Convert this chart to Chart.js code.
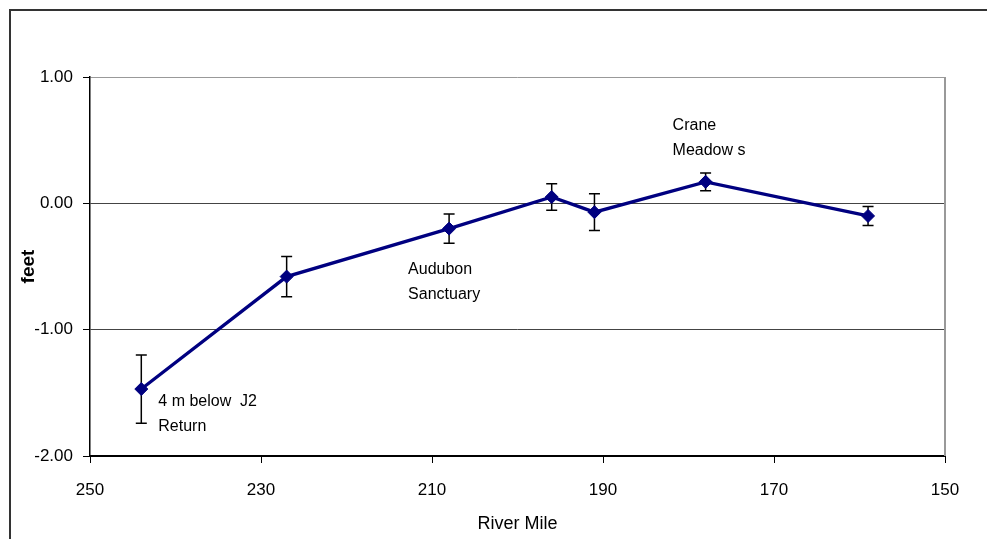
<!DOCTYPE html>
<html>
<head>
<meta charset="utf-8">
<script src="https://cdn.jsdelivr.net/npm/chart.js@4.4.0/dist/chart.umd.min.js"></script>
<style>
  html, body { margin: 0; padding: 0; background: #fff; }
  #wrap { width: 987px; height: 539px; }
</style>
</head>
<body>
<div id="wrap"><canvas id="grafico" width="987" height="539"></canvas></div>
<script>
// River mile of each site and mean change (feet) with error
const riverMiles = [244, 227, 208, 196, 191, 178, 159];
const feetValues = [-1.47, -0.58, -0.20, 0.05, -0.07, 0.17, -0.10];
const feetErrors = [0.27, 0.16, 0.115, 0.105, 0.145, 0.07, 0.075];
const yTicks = [-2, -1, 0, 1];

// site labels, tied to a point index
const siteLabels = [
  { idx: 0, lines: ["4 m below  J2", "Return"], dx: 17, dy: 17 },
  { idx: 2, lines: ["Audubon", "Sanctuary"], dx: -41, dy: 45 },
  { idx: 5, lines: ["Crane", "Meadow s"], dx: -33, dy: -52 }
];

const fonte = "'Liberation Sans', Arial, sans-serif";

const moldura = {
  id: "moldura",
  beforeDraw(chart) {
    const ctx = chart.ctx;
    ctx.save();
    ctx.fillStyle = "#fff";
    ctx.fillRect(0, 0, chart.width, chart.height);
    ctx.strokeStyle = "#333";
    ctx.lineWidth = 2;
    ctx.strokeRect(10, 10, 1100, 700);
    ctx.restore();
  },
  beforeDatasetsDraw(chart) {
    const { ctx, chartArea, scales } = chart;
    ctx.save();
    // right edge of plot
    ctx.strokeStyle = "#999";
    ctx.lineWidth = 2;
    ctx.beginPath();
    ctx.moveTo(chartArea.right, chartArea.top);
    ctx.lineTo(chartArea.right, chartArea.bottom);
    ctx.stroke();
    // error bars
    ctx.strokeStyle = "#000";
    ctx.lineWidth = 1.5;
    riverMiles.forEach((m, i) => {
      const x = scales.x.getPixelForValue(m);
      const y1 = scales.y.getPixelForValue(feetValues[i] + feetErrors[i]);
      const y2 = scales.y.getPixelForValue(feetValues[i] - feetErrors[i]);
      ctx.beginPath();
      ctx.moveTo(x, y1); ctx.lineTo(x, y2);
      ctx.moveTo(x - 5.5, y1); ctx.lineTo(x + 5.5, y1);
      ctx.moveTo(x - 5.5, y2); ctx.lineTo(x + 5.5, y2);
      ctx.stroke();
    });
    ctx.restore();
  },
  afterDatasetsDraw(chart) {
    const { ctx, scales } = chart;
    ctx.save();
    ctx.fillStyle = "#000";
    ctx.font = "16px " + fonte;
    ctx.textBaseline = "alphabetic";
    siteLabels.forEach(l => {
      const x = scales.x.getPixelForValue(riverMiles[l.idx]) + l.dx;
      const y = scales.y.getPixelForValue(feetValues[l.idx]) + l.dy;
      l.lines.forEach((t, k) => ctx.fillText(t, x, y + k * 25));
    });
    ctx.restore();
  }
};

new Chart(document.getElementById("grafico"), {
  type: "scatter",
  data: {
    datasets: [{
      label: "feet",
      data: riverMiles.map((m, i) => ({ x: m, y: feetValues[i] })),
      showLine: true,
      borderColor: "#000080",
      borderWidth: 3.3,
      backgroundColor: "#000080",
      pointStyle: "rectRot",
      pointRadius: 6.5,
      pointBorderWidth: 1,
      pointBorderColor: "#000080"
    }]
  },
  options: {
    responsive: false,
    animation: false,
    layout: { padding: { left: 10, right: 42, top: 77, bottom: 0 } },
    plugins: {
      legend: { display: false },
      tooltip: { enabled: false }
    },
    scales: {
      x: {
        type: "linear",
        reverse: true,
        min: 150,
        max: 250,
        afterFit: s => { s.height = 83; },
        ticks: {
          stepSize: 20,
          color: "#000",
          padding: 17,
          maxRotation: 0,
          font: { family: fonte, size: 17 }
        },
        grid: { drawOnChartArea: false, tickLength: 7, tickColor: "#000" },
        border: { color: "#000", width: 2 },
        title: {
          display: true,
          text: "River Mile",
          color: "#000",
          font: { family: fonte, size: 18 },
          padding: { top: 4, bottom: 4 }
        }
      },
      y: {
        min: -2,
        max: 1,
        afterFit: s => { s.width = 80; },
        afterBuildTicks: s => { s.ticks = yTicks.map(v => ({ value: v })); },
        ticks: {
          color: "#000",
          padding: 10,
          font: { family: fonte, size: 17 },
          callback: v => v.toFixed(2)
        },
        grid: {
          color: c => (c.tick && c.tick.value === 1 ? "#999" : "#444"),
          lineWidth: 1,
          tickLength: 7,
          tickColor: "#000"
        },
        border: { color: "#000", width: 1.5 },
        title: {
          display: true,
          text: "feet",
          color: "#000",
          font: { family: fonte, size: 19, weight: "bold" },
          padding: { top: 7, bottom: 0 }
        }
      }
    }
  },
  plugins: [moldura]
});
</script>
</body>
</html>
